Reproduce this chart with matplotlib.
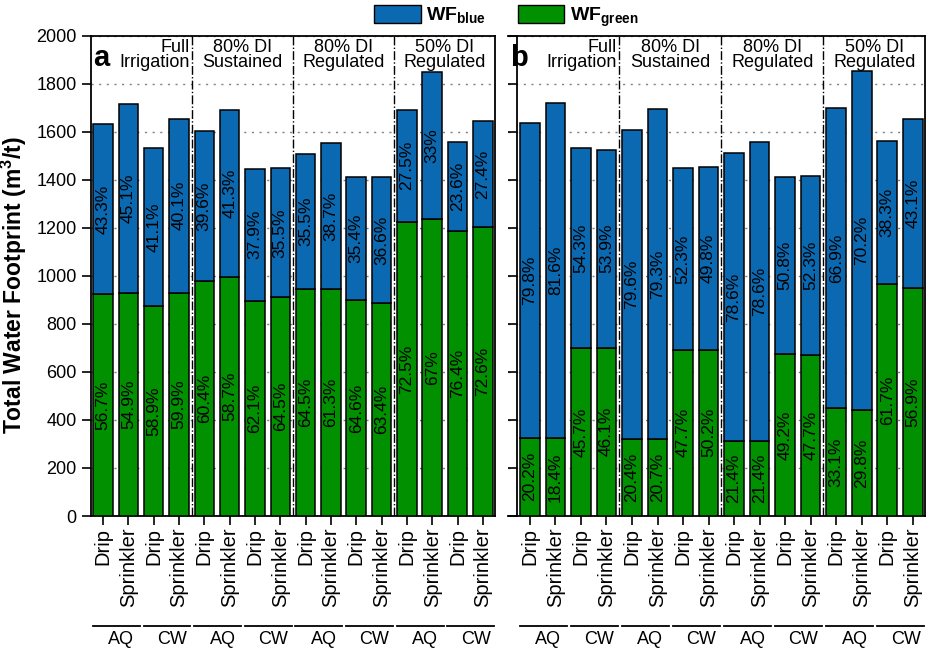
import numpy as np
import matplotlib
matplotlib.use('Agg')
import matplotlib.pyplot as plt
from matplotlib.patches import Patch

plt.rcParams['font.family'] = ['Liberation Sans', 'DejaVu Sans']
plt.rcParams['mathtext.fontset'] = 'custom'
plt.rcParams['mathtext.rm'] = 'Liberation Sans'
plt.rcParams['mathtext.bf'] = 'Liberation Sans:bold'

# data
methods = ['Drip', 'Sprinkler'] * 8
sources = ['AQ', 'CW'] * 4
groups = ['Full\nIrrigation', '80% DI\nSustained', '80% DI\nRegulated', '50% DI\nRegulated']

total_a = [1630, 1716, 1531, 1653, 1601, 1689, 1446, 1448, 1508, 1553, 1411, 1411, 1691, 1849, 1557, 1646]
green_a = [925, 930, 875, 930, 979, 994, 897, 910, 944, 944, 898, 885, 1225, 1237, 1187, 1201]
total_b = [1636, 1721, 1533, 1525, 1606, 1693, 1447, 1452, 1512, 1557, 1412, 1414, 1698, 1854, 1560, 1651]
green_b = [326, 326, 699, 701, 322, 322, 693, 693, 312, 312, 675, 671, 449, 442, 964, 950]

pct_blue_a = ['43.3%', '45.1%', '41.1%', '40.1%', '39.6%', '41.3%', '37.9%', '35.5%',
              '35.5%', '38.7%', '35.4%', '36.6%', '27.5%', '33%', '23.6%', '27.4%']
pct_green_a = ['56.7%', '54.9%', '58.9%', '59.9%', '60.4%', '58.7%', '62.1%', '64.5%',
               '64.5%', '61.3%', '64.6%', '63.4%', '72.5%', '67%', '76.4%', '72.6%']
pct_blue_b = ['79.8%', '81.6%', '54.3%', '53.9%', '79.6%', '79.3%', '52.3%', '49.8%',
              '78.6%', '78.6%', '50.8%', '52.3%', '66.9%', '70.2%', '38.3%', '43.1%']
pct_green_b = ['20.2%', '18.4%', '45.7%', '46.1%', '20.4%', '20.7%', '47.7%', '50.2%',
               '21.4%', '21.4%', '49.2%', '47.7%', '33.1%', '29.8%', '61.7%', '56.9%']

blue = '#0a69b0'
green = '#009000'

fig = plt.figure(figsize=(9.29, 6.49), dpi=100)
ax_a = fig.add_axes([0.0976, 0.2049, 0.4352, 0.7404])
ax_b = fig.add_axes([0.5468, 0.2049, 0.4489, 0.7404])


def draw_panel(ax, total, green_v, pb, pg, letter, xmin):
    x = np.arange(len(total))
    total = np.array(total)
    green_v = np.array(green_v)
    blue_v = total - green_v
    ax.bar(x, green_v, width=0.77, color=green, edgecolor='black', linewidth=1.1, zorder=3)
    ax.bar(x, blue_v, bottom=green_v, width=0.77, color=blue, edgecolor='black', linewidth=1.1, zorder=3)
    for i in range(len(total)):
        ax.text(x[i], green_v[i] + blue_v[i] / 2, pb[i], rotation=90, ha='center', va='center',
                fontsize=12.5, zorder=4)
        ax.text(x[i], green_v[i] / 2, pg[i], rotation=90, ha='center', va='center',
                fontsize=12.5, zorder=4)
    for s in [3.5, 7.5, 11.5]:
        ax.axvline(s, color='black', linestyle='-.', linewidth=1.0, zorder=2)
    ax.set_ylim(0, 2000)
    ax.set_xlim(xmin, 15.48)
    ax.set_yticks(np.arange(0, 2001, 200))
    ax.yaxis.grid(True, linestyle=(0, (1.5, 4)), color='gray', linewidth=1.0, zorder=0)
    ax.set_axisbelow(True)
    ax.set_xticks(x)
    ax.set_xticklabels(methods, rotation=90)
    ax.tick_params(axis='both', direction='out', length=6.5, width=1.2, labelsize=13)
    ax.tick_params(axis='x', labelsize=14.5, pad=2)
    for sp in ax.spines.values():
        sp.set_linewidth(1.3)
    # group titles
    for k, g in enumerate(groups):
        if k == 0:
            ax.text(3.42, 1985, g, ha='right', va='top', fontsize=13, linespacing=0.85)
        else:
            ax.text(4 * k + 1.5, 1985, g, ha='center', va='top', fontsize=13, linespacing=0.85)
    ax.text(xmin + 0.1, 1875, letter, ha='left', va='baseline', fontsize=21, fontweight='bold')
    # source brackets under the tick labels
    tr = ax.get_xaxis_transform()
    for k in range(8):
        ax.plot([2 * k - 0.4, 2 * k + 1.45], [-0.229, -0.229], color='black', linewidth=1.3,
                transform=tr, clip_on=False)
        ax.text(2 * k + 0.72, -0.256, sources[k], ha='center', va='center', fontsize=13,
                transform=tr)


draw_panel(ax_a, total_a, green_a, pct_blue_a, pct_green_a, 'a', -0.49)
draw_panel(ax_b, total_b, green_b, pct_blue_b, pct_green_b, 'b', -0.86)

ax_a.set_ylabel('Total Water Footprint (m$^\\mathbf{3}$/t)', fontsize=16.5, fontweight='bold')
ax_a.yaxis.set_label_coords(-0.152, 0.48)
ax_b.set_yticklabels([])
ax_b.spines['left'].set_position(('outward', -6.5))

handles = [Patch(facecolor=blue, edgecolor='black', linewidth=1.0),
           Patch(facecolor=green, edgecolor='black', linewidth=1.0)]
labels = ['$\\mathbf{WF}_{\\mathbf{blue}}$', '$\\mathbf{WF}_{\\mathbf{green}}$']
fig.legend(handles, labels, loc='upper center', bbox_to_anchor=(0.545, 1.008), ncol=2,
           frameon=False, fontsize=14, handlelength=2.4, handleheight=1.1,
           columnspacing=1.6, handletextpad=0.3, borderaxespad=0.1)

fig.savefig('out.png', dpi=100)
